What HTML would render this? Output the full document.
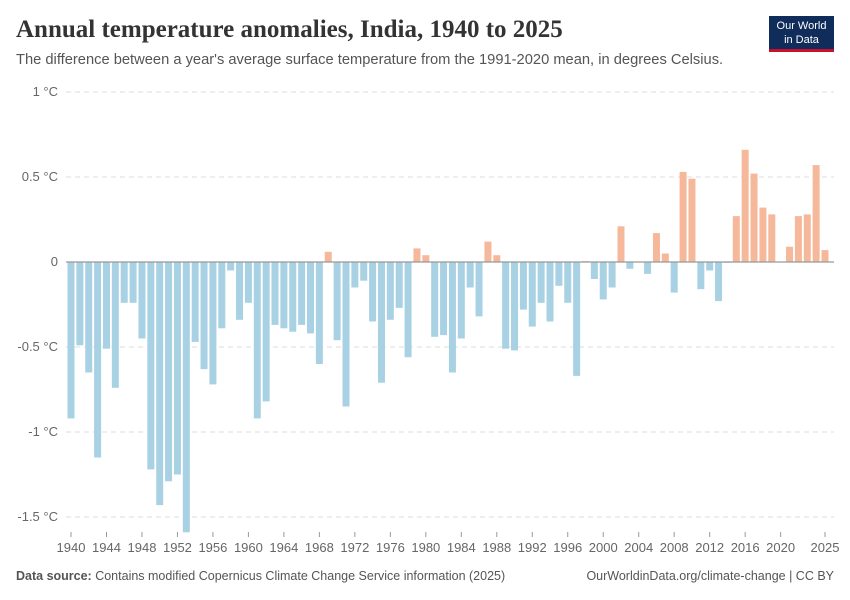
<!DOCTYPE html>
<html><head><meta charset="utf-8"><style>
body{margin:0;background:#fff;width:850px;height:600px;overflow:hidden;font-family:"Liberation Sans",sans-serif}
.t{position:absolute;left:16px;top:16px;font-family:"Liberation Serif",serif;font-size:25px;font-weight:bold;color:#333}
.s{position:absolute;left:16px;top:52px;font-size:14.7px;color:#555}
.logo{position:absolute;left:769px;top:16px;width:65px;height:36px;background:#0f2c5a;color:#fff;font-size:11px;text-align:center;line-height:14px;padding-top:3px;box-sizing:border-box;border-bottom:3px solid #c8102e}
.f{position:absolute;top:569px;font-size:12.5px;color:#555}
</style></head><body>
<div class="t">Annual temperature anomalies, India, 1940 to 2025</div>
<div class="s">The difference between a year's average surface temperature from the 1991-2020 mean, in degrees Celsius.</div>
<div class="logo">Our World<br>in Data</div>
<div class="f" style="left:16px"><b>Data source:</b> Contains modified Copernicus Climate Change Service information (2025)</div>
<div class="f" style="right:16px">OurWorldinData.org/climate-change | CC BY</div>
<svg id="c" width="850" height="600" style="position:absolute;left:0;top:0"></svg>
<script>
const startYear=1940;
const values=[-0.92,-0.49,-0.65,-1.15,-0.51,-0.74,-0.24,-0.24,-0.45,-1.22,-1.43,-1.29,-1.25,-1.59,-0.47,-0.63,-0.72,-0.39,-0.05,-0.34,-0.24,-0.92,-0.82,-0.37,-0.39,-0.41,-0.37,-0.42,-0.60,0.06,-0.46,-0.85,-0.15,-0.11,-0.35,-0.71,-0.34,-0.27,-0.56,0.08,0.04,-0.44,-0.43,-0.65,-0.45,-0.15,-0.32,0.12,0.04,-0.51,-0.52,-0.28,-0.38,-0.24,-0.35,-0.14,-0.24,-0.67,0.005,-0.10,-0.22,-0.15,0.21,-0.04,0.0,-0.07,0.17,0.05,-0.18,0.53,0.49,-0.16,-0.05,-0.23,-0.005,0.27,0.66,0.52,0.32,0.28,0.0,0.09,0.27,0.28,0.57,0.07];
const yTicks=[1,0.5,0,-0.5,-1,-1.5];
const yTickLabels=["1 °C","0.5 °C","0","-0.5 °C","-1 °C","-1.5 °C"];
const xTickYears=[1940,1944,1948,1952,1956,1960,1964,1968,1972,1976,1980,1984,1988,1992,1996,2000,2004,2008,2012,2016,2020,2025];
const svg=document.getElementById('c');const NS='http://www.w3.org/2000/svg';
const y=v=>262-v*170;
const x=yr=>71+(yr-1940)*(754/85);
function mk(t,a){const e=document.createElementNS(NS,t);for(const k in a)e.setAttribute(k,a[k]);svg.appendChild(e);return e;}
yTicks.forEach((v,i)=>{
 if(v!==0){const l=mk('line',{x1:66,x2:834,y1:y(v),y2:y(v),stroke:'#ddd','stroke-dasharray':'5,4'});
 
 }
 const t=mk('text',{x:58,y:y(v)+4,'text-anchor':'end','font-size':13,fill:'#666','font-family':'Liberation Sans'});
 t.textContent=yTickLabels[i];
 
 
});
values.forEach((v,i)=>{
 const yr=startYear+i;const top=Math.min(y(v),y(0));const h=Math.abs(y(v)-y(0));
 const r=mk('rect',{x:x(yr)-3.5,y:top,width:7,height:Math.max(h,0.5),fill:v>=0?'#f6b89a':'#a9d1e4'});
 
 
});
const z=mk('line',{x1:66,x2:834,y1:y(0),y2:y(0),stroke:'#999','stroke-width':1.2});


xTickYears.forEach(yr=>{
 const tk=mk('line',{x1:x(yr),x2:x(yr),y1:532,y2:537,stroke:'#999'});
 
 
 const t=mk('text',{x:x(yr),y:552,'text-anchor':'middle','font-size':13,fill:'#666','font-family':'Liberation Sans'});
 t.textContent=yr;
 
 
});
</script>
</body></html>
